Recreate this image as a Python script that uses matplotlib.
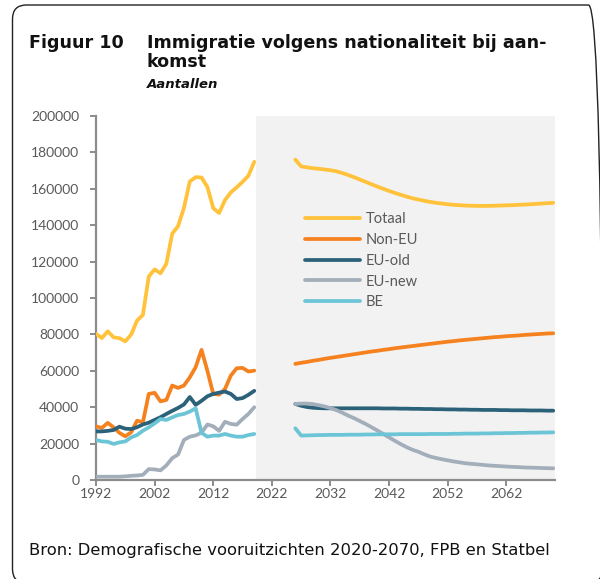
import matplotlib
matplotlib.use("Agg")
import matplotlib.pyplot as plt
from matplotlib.patches import FancyBboxPatch

# ---------------- data (thousands) ----------------
hist_years = list(range(1992, 2020))
hist_totaal = [80.3, 78.0, 81.7, 78.4, 77.9, 76.2, 79.9, 87.6, 90.7, 111.8, 115.7, 113.6,
               118.8, 135.3, 139.5, 149.5, 164.0, 166.4, 166.2, 161.0, 149.4, 146.7,
               153.8, 158.0, 160.8, 163.8, 167.2, 174.8]
hist_noneu = [29.5, 28.6, 31.4, 28.9, 25.9, 24.0, 26.2, 32.6, 31.7, 47.3, 47.9, 43.2,
              44.0, 51.9, 50.6, 51.9, 56.4, 62.0, 71.5, 60.0, 47.3, 46.9,
              50.0, 57.4, 61.4, 61.6, 59.6, 60.1]
hist_euold = [26.7, 26.7, 27.0, 27.5, 29.3, 28.2, 28.0, 29.0, 30.5, 31.5, 33.0, 34.5,
              36.3, 38.0, 39.6, 41.5, 45.6, 41.3, 43.5, 46.0, 47.3, 48.0,
              48.6, 47.3, 44.5, 45.0, 46.8, 49.0]
hist_eunew = [1.8, 1.8, 1.8, 1.8, 1.8, 2.0, 2.3, 2.5, 2.8, 6.0, 5.8, 5.3,
              8.0, 12.0, 14.0, 22.0, 23.8, 24.5, 26.0, 30.5, 29.5, 27.0,
              32.0, 30.8, 30.4, 33.5, 36.3, 40.0]
hist_be = [22.0, 21.2, 21.0, 19.8, 20.7, 21.2, 23.4, 24.7, 27.1, 28.9, 31.1, 33.5,
           33.0, 34.4, 35.7, 36.3, 37.6, 39.4, 25.9, 23.8, 24.4, 24.4,
           25.3, 24.4, 23.8, 23.8, 24.7, 25.3]

proj_years = list(range(2026, 2071))
proj_totaal = [176.0, 172.3, 171.8, 171.3, 171.0, 170.6, 170.2, 169.6, 168.7, 167.6,
               166.4, 165.1, 163.8, 162.5, 161.2, 160.0, 158.8, 157.7, 156.7, 155.7,
               154.8, 154.1, 153.4, 152.8, 152.3, 151.9, 151.5, 151.2, 151.0, 150.8,
               150.7, 150.6, 150.6, 150.6, 150.7, 150.8, 150.9, 151.0, 151.2, 151.3,
               151.5, 151.7, 151.9, 152.1, 152.3]
proj_noneu = [63.8, 64.4, 64.9, 65.5, 66.0, 66.6, 67.1, 67.6, 68.1, 68.6,
              69.1, 69.6, 70.1, 70.6, 71.0, 71.5, 71.9, 72.4, 72.8, 73.2,
              73.6, 74.0, 74.4, 74.8, 75.2, 75.6, 76.0, 76.3, 76.7, 77.0,
              77.3, 77.6, 77.9, 78.2, 78.5, 78.7, 79.0, 79.2, 79.4, 79.7,
              79.9, 80.1, 80.3, 80.5, 80.6]
proj_euold = [41.8, 40.8, 40.1, 39.7, 39.5, 39.4, 39.4, 39.4, 39.4, 39.4,
              39.4, 39.4, 39.4, 39.4, 39.4, 39.3, 39.3, 39.3, 39.2, 39.2,
              39.1, 39.1, 39.0, 39.0, 38.9, 38.9, 38.8, 38.8, 38.7, 38.7,
              38.6, 38.6, 38.5, 38.5, 38.5, 38.4, 38.4, 38.3, 38.3, 38.3,
              38.2, 38.2, 38.2, 38.1, 38.1]
proj_eunew = [41.8, 42.0, 42.0, 41.7, 41.1, 40.4, 39.5, 38.4, 37.0, 35.4,
              34.0, 32.4, 30.8, 29.0, 27.2, 25.3, 23.4, 21.5, 19.7, 18.0,
              16.6, 15.5, 14.1, 12.9, 12.1, 11.4, 10.8, 10.2, 9.7, 9.2,
              8.9, 8.6, 8.3, 8.0, 7.8, 7.6, 7.4, 7.2, 7.1, 6.9,
              6.8, 6.7, 6.6, 6.5, 6.4]
proj_be = [28.4, 24.4, 24.5, 24.6, 24.7, 24.7, 24.8, 24.8, 24.8, 24.9,
           24.9, 24.9, 25.0, 25.0, 25.1, 25.1, 25.1, 25.1, 25.2, 25.2,
           25.2, 25.2, 25.2, 25.3, 25.3, 25.3, 25.3, 25.4, 25.4, 25.5,
           25.5, 25.5, 25.6, 25.6, 25.7, 25.7, 25.8, 25.8, 25.9, 25.9,
           26.0, 26.0, 26.1, 26.1, 26.2]

series_names = ["Totaal", "Non-EU", "EU-old", "EU-new", "BE"]
series_hist = [hist_totaal, hist_noneu, hist_euold, hist_eunew, hist_be]
series_proj = [proj_totaal, proj_noneu, proj_euold, proj_eunew, proj_be]
colors = ["#FFC23A", "#F5821F", "#2B6179", "#A3AEBB", "#6CC5D6"]

y_ticks = [0, 20000, 40000, 60000, 80000, 100000, 120000, 140000, 160000, 180000, 200000]
x_ticks = [1992, 2002, 2012, 2022, 2032, 2042, 2052, 2062]

# ---------------- figure ----------------
W, H = 600, 579
fig = plt.figure(figsize=(W / 100, H / 100), dpi=100)

frame = FancyBboxPatch((12.5, -4), 590, 574 + 4, boxstyle="round,pad=0,rounding_size=14",
                       transform=None, fill=False, edgecolor="#222222", linewidth=1.0)
fig.patches.append(frame)

ax = fig.add_axes([96 / W, 1 - 480 / H, (555 - 96) / W, (480 - 116) / H])
ax.axvspan(2019.3, 2071, color="#F2F2F2", zorder=0, lw=0)

tick_font = "Lato"
for name, h, p, c in zip(series_names, series_hist, series_proj, colors):
    ax.plot(hist_years, [v * 1000 for v in h], color=c, lw=2.7, solid_capstyle="round",
            solid_joinstyle="round", label=name, zorder=3)
    ax.plot(proj_years, [v * 1000 for v in p], color=c, lw=2.7, solid_capstyle="round",
            solid_joinstyle="round", zorder=3)

ax.set_xlim(1992, 2070.3)
ax.set_ylim(0, 200000)
ax.set_yticks(y_ticks)
ax.set_yticklabels([str(v) for v in y_ticks])
ax.set_xticks(x_ticks)
ax.set_xticklabels([str(v) for v in x_ticks])
for s in ["top", "right"]:
    ax.spines[s].set_visible(False)
for s in ["left", "bottom"]:
    ax.spines[s].set_color("#8C8C8C")
    ax.spines[s].set_linewidth(1.6)
ax.tick_params(axis="both", direction="out", length=4, width=1.4, color="#8C8C8C",
               labelcolor="#595959", labelsize=10)
ax.tick_params(axis="y", pad=8)
ax.tick_params(axis="x", pad=2)
for lab in ax.get_xticklabels() + ax.get_yticklabels():
    lab.set_fontfamily(tick_font)
ax.set_facecolor("white")

leg = ax.legend(loc="upper left", bbox_to_anchor=((305 - 96) / 459, (480 - 212) / 364),
                frameon=False, borderpad=0, borderaxespad=0, handlelength=3.8,
                handletextpad=0.35, labelspacing=0.47,
                prop={"family": tick_font, "size": 10.5})
for t in leg.get_texts():
    t.set_color("#595959")
for l in leg.get_lines():
    l.set_linewidth(2.7)

# ---------------- texts ----------------
title_kw = dict(fontsize=12.6, fontweight="bold", family="DejaVu Sans", va="baseline",
                ha="left", color="#111111")
fig.text(29 / W, 1 - 48 / H, "Figuur 10", **title_kw)
fig.text(147 / W, 1 - 48 / H, "Immigratie volgens nationaliteit bij aan-", **title_kw)
fig.text(147 / W, 1 - 67 / H, "komst", **title_kw)
fig.text(147 / W, 1 - 88 / H, "Aantallen", fontsize=9.5, fontweight="bold", style="italic",
         family="DejaVu Sans", va="baseline", ha="left", color="#111111")
fig.text(29 / W, 1 - 555 / H, "Bron: Demografische vooruitzichten 2020-2070, FPB en Statbel",
         fontsize=11.8, family="DejaVu Sans", va="baseline", ha="left", color="#111111")

fig.savefig("out.png", dpi=100)
